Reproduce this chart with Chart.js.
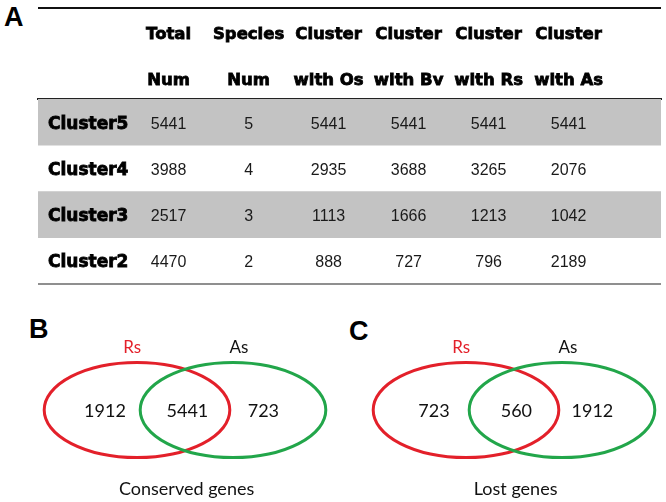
<!DOCTYPE html>
<html>
<head>
<meta charset="utf-8">
<script src="https://cdn.jsdelivr.net/npm/chart.js@4.4.1/dist/chart.umd.min.js"></script>
<style>
  body { margin: 0; width: 666px; height: 502px; overflow: hidden; background: #fff; position: relative; }
  canvas { position: absolute; }
  .panel { position: absolute; font-family: "Liberation Sans", Arial, sans-serif; font-weight: bold; font-size: 27px; line-height: 27px; color: #000; }
</style>
</head>
<body>
<div class="panel" style="left:4px; top:4px;">A</div>
<div class="panel" style="left:29px; top:316px;">B</div>
<div class="panel" style="left:349px; top:318px;">C</div>
<canvas id="tabla" width="666" height="300" style="left:0; top:0;"></canvas>
<canvas id="vennB" width="320" height="192" style="left:25px; top:310px;"></canvas>
<canvas id="vennC" width="320" height="192" style="left:354px; top:310px;"></canvas>
<script>
// Datos de la tabla
const rowNames = ['Cluster5', 'Cluster4', 'Cluster3', 'Cluster2'];
const colHeaders = [['Total', 'Num'], ['Species', 'Num'], ['Cluster', 'with Os'], ['Cluster', 'with Bv'], ['Cluster', 'with Rs'], ['Cluster', 'with As']];
const totalNum = [5441, 3988, 2517, 4470];
const speciesNum = [5, 4, 3, 2];
const withOs = [5441, 2935, 1113, 888];
const withBv = [5441, 3688, 1666, 727];
const withRs = [5441, 3265, 1213, 796];
const withAs = [5441, 2076, 1042, 2189];

// Datos de los diagramas de Venn
const vennSets = ['Rs', 'As'];
const conserved = [1912, 5441, 723];
const lost = [723, 560, 1912];

const columns = [totalNum, speciesNum, withOs, withBv, withRs, withAs];

// Escala de columnas: columna k centrada en x = k
const colMin = -0.6325;
const colMax = 7.155;
const rowLabelPos = -0.5075;
const headerShift = 4; // desplaza las cabeceras hacia abajo (el padding cuenta doble en fit)

// Plugin que dibuja las reglas y el texto de las celdas
const tablaPlugin = {
    id: 'tablaPlugin',
    afterDatasetsDraw(chart) {
        const ctx = chart.ctx;
        const x = chart.scales.x;
        const y = chart.scales.y;
        const area = chart.chartArea;

        ctx.save();
        // regla superior
        ctx.strokeStyle = '#111';
        ctx.lineWidth = 2;
        ctx.beginPath();
        ctx.moveTo(area.left, x.top - 2 * headerShift);
        ctx.lineTo(area.right, x.top - 2 * headerShift);
        ctx.stroke();
        // regla inferior
        ctx.strokeStyle = '#6a6a6a';
        ctx.lineWidth = 1.5;
        ctx.beginPath();
        ctx.moveTo(area.left, area.bottom);
        ctx.lineTo(area.right, area.bottom);
        ctx.stroke();

        // nombres de las filas
        ctx.fillStyle = '#000';
        ctx.strokeStyle = '#000';
        ctx.lineWidth = 0.8;
        ctx.textBaseline = 'middle';
        ctx.textAlign = 'left';
        ctx.font = 'bold 17px "DejaVu Sans"';
        rowNames.forEach((name, i) => {
            const px = x.getPixelForValue(rowLabelPos);
            const py = y.getPixelForValue(i) + 2;
            ctx.strokeText(name, px, py);
            ctx.fillText(name, px, py);
        });

        // valores
        ctx.fillStyle = '#1a1a1a';
        ctx.textAlign = 'center';
        ctx.font = '16px "Liberation Sans"';
        columns.forEach((col, c) => {
            col.forEach((val, r) => {
                ctx.fillText(String(val), x.getPixelForValue(c + 1), y.getPixelForValue(r) + 2);
            });
        });
        ctx.restore();
    }
};

new Chart(document.getElementById('tabla'), {
    type: 'bar',
    data: {
        labels: rowNames,
        datasets: [{
            // filas sombreadas alternas
            data: rowNames.map((r, i) => i % 2 === 0 ? [colMin, colMax] : null),
            backgroundColor: '#c3c3c3',
            borderWidth: 0,
            barPercentage: 1,
            categoryPercentage: 1
        }]
    },
    options: {
        indexAxis: 'y',
        responsive: false,
        animation: false,
        events: [],
        layout: { padding: { top: 8 + 2 * headerShift, left: 38, right: 5, bottom: 16 } },
        plugins: { legend: { display: false }, tooltip: { enabled: false } },
        scales: {
            x: {
                type: 'linear',
                position: 'top',
                min: colMin,
                max: colMax,
                afterBuildTicks: (scale) => {
                    scale.ticks = colHeaders.map((h, i) => ({ value: i + 1 }));
                },
                grid: { display: false, drawTicks: false },
                border: { display: true, color: '#222', width: 2 },
                ticks: {
                    autoSkip: false,
                    maxRotation: 0,
                    padding: -headerShift,
                    color: '#000',
                    textStrokeColor: '#000',
                    textStrokeWidth: 0.8,
                    font: { family: 'DejaVu Sans', weight: 'bold', size: 16.5, lineHeight: 45.5 / 16.5 },
                    callback: (v) => colHeaders[Math.round(v) - 1]
                }
            },
            y: { type: 'category', display: false }
        }
    },
    plugins: [tablaPlugin]
});

// Geometria de los diagramas de Venn (en unidades de las escalas)
const setCenters = [-0.6, 0.6];
const ellipseRx = 1.16;
const ellipseRy = 0.595;
const setColors = ['#e3202a', '#22a64a'];
const setLabelColors = ['#e3202a', '#111'];
const regionX = [-1.0, 0.03, 0.98];

function vennPlugin(title) {
    return {
        id: 'venn',
        beforeDatasetsDraw(chart) {
            const ctx = chart.ctx;
            const x = chart.scales.x;
            const y = chart.scales.y;
            ctx.save();
            ctx.lineWidth = 3;
            setCenters.forEach((cx, i) => {
                const px = x.getPixelForValue(cx);
                const py = y.getPixelForValue(0);
                const rx = x.getPixelForValue(cx + ellipseRx) - px;
                const ry = py - y.getPixelForValue(ellipseRy);
                ctx.strokeStyle = setColors[i];
                ctx.beginPath();
                ctx.ellipse(px, py, rx, ry, 0, 0, Math.PI * 2);
                ctx.stroke();
            });
            ctx.restore();
        },
        afterDatasetsDraw(chart) {
            const ctx = chart.ctx;
            const x = chart.scales.x;
            const y = chart.scales.y;
            const meta = chart.getDatasetMeta(0);
            const counts = chart.data.datasets[0].counts;
            ctx.save();
            ctx.textAlign = 'center';
            ctx.textBaseline = 'alphabetic';
            ctx.font = '18px Lato';
            ctx.fillStyle = '#111';
            meta.data.forEach((pt, i) => {
                ctx.fillText(String(counts[i]), pt.x, pt.y + 7);
            });
            // nombres de los conjuntos
            ctx.font = '17px Lato';
            vennSets.forEach((s, i) => {
                ctx.fillStyle = setLabelColors[i];
                ctx.fillText(s, x.getPixelForValue(i === 0 ? -0.66 : 0.675), y.getPixelForValue(0.71));
            });
            // titulo
            ctx.font = '18px Lato';
            ctx.fillStyle = '#111';
            ctx.fillText(title, x.getPixelForValue(0.02), y.getPixelForValue(-1.06));
            ctx.restore();
        }
    };
}

function crearVenn(id, counts, title) {
    new Chart(document.getElementById(id), {
        type: 'scatter',
        data: {
            datasets: [{
                data: counts.map((c, i) => ({ x: regionX[i], y: 0 })),
                counts: counts,
                pointRadius: 0
            }]
        },
        options: {
            responsive: false,
            animation: false,
            events: [],
            layout: { padding: 0 },
            plugins: { legend: { display: false }, tooltip: { enabled: false } },
            scales: {
                x: { type: 'linear', display: false, min: -2, max: 2 },
                y: { type: 'linear', display: false, min: -1.15, max: 1.25 }
            }
        },
        plugins: [vennPlugin(title)]
    });
}

crearVenn('vennB', conserved, 'Conserved genes');
crearVenn('vennC', lost, 'Lost genes');
</script>
</body>
</html>
